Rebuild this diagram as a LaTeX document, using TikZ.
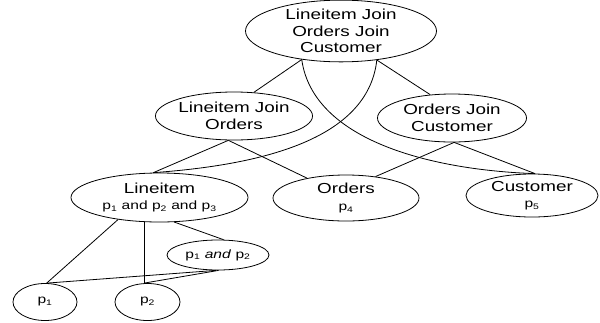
\documentclass[tikz,border=0pt]{standalone}
\usepackage{fontspec}
\setmainfont{Liberation Sans}[FakeStretch=1.3]
\usepackage{tikz}
\usetikzlibrary{positioning, shapes.geometric}

\newcommand{\relfont}{\fontsize{14.5}{16.5}\selectfont}
\newcommand{\predfont}{\fontsize{12}{14}\selectfont}

\begin{document}
\begin{tikzpicture}[x=1pt, y=-1pt, line width=0.8pt]
\tikzstyle{relation}=[draw, ellipse, inner sep=0pt, align=center, font=\relfont]
\tikzstyle{pred}=[draw, ellipse, inner sep=0pt, align=center, font=\predfont]

\useasboundingbox (0,0) rectangle (600,322);

% joins
\node (top) at (341,31) [relation, minimum width=191pt, minimum height=55pt] {Lineitem Join\\Orders Join\\Customer};
\node (ljo) at (234,116) [relation, minimum width=146pt, minimum height=48pt] {Lineitem Join\\Orders};
\node (ojc) at (452,118) [relation, minimum width=149pt, minimum height=48pt] {Orders Join\\Customer};

% base relations
\node (li) at (159.5,197.5) [relation, minimum width=177pt, minimum height=49pt] {Lineitem\\\predfont p\textsubscript{1} and p\textsubscript{2} and p\textsubscript{3}};
\node (ord) at (346,198) [relation, minimum width=146pt, minimum height=46pt] {Orders\\\predfont p\textsubscript{4}};
\node (cus) at (532,195.5) [relation, minimum width=132pt, minimum height=43pt] {Customer\\\predfont p\textsubscript{5}};

% predicates
\node (p12) at (218,255) [pred, minimum width=102pt, minimum height=30pt] {p\textsubscript{1} \textit{and} p\textsubscript{2}};
\node (pa) at (45,302) [pred, minimum width=64pt, minimum height=37pt] {p\textsubscript{1}};
\node (pb) at (147.5,302) [pred, minimum width=65pt, minimum height=37pt] {p\textsubscript{2}};

% connections
\draw (top.216) -- (ljo.50);
\draw (top.321) -- (ojc.133);
\draw (top.216) .. controls (313,140) and (430,170) .. (cus.82);
\draw (top.321) .. controls (368,140) and (260,165) .. (li.104);
\draw (ljo.257) -- (li.104);
\draw (ljo.257) -- (ord.153);
\draw (ojc.275) -- (ord.36);
\draw (ojc.275) -- (cus.82);
\draw (li.208) -- (pa.85);
\draw (li.238) -- (li.238 |- pb.north);
\draw (li.301) -- (p12.70);
\draw (p12.262) -- (pa.85);
\draw (p12.272) -- (li.238 |- pb.north);

\end{tikzpicture}
\end{document}
